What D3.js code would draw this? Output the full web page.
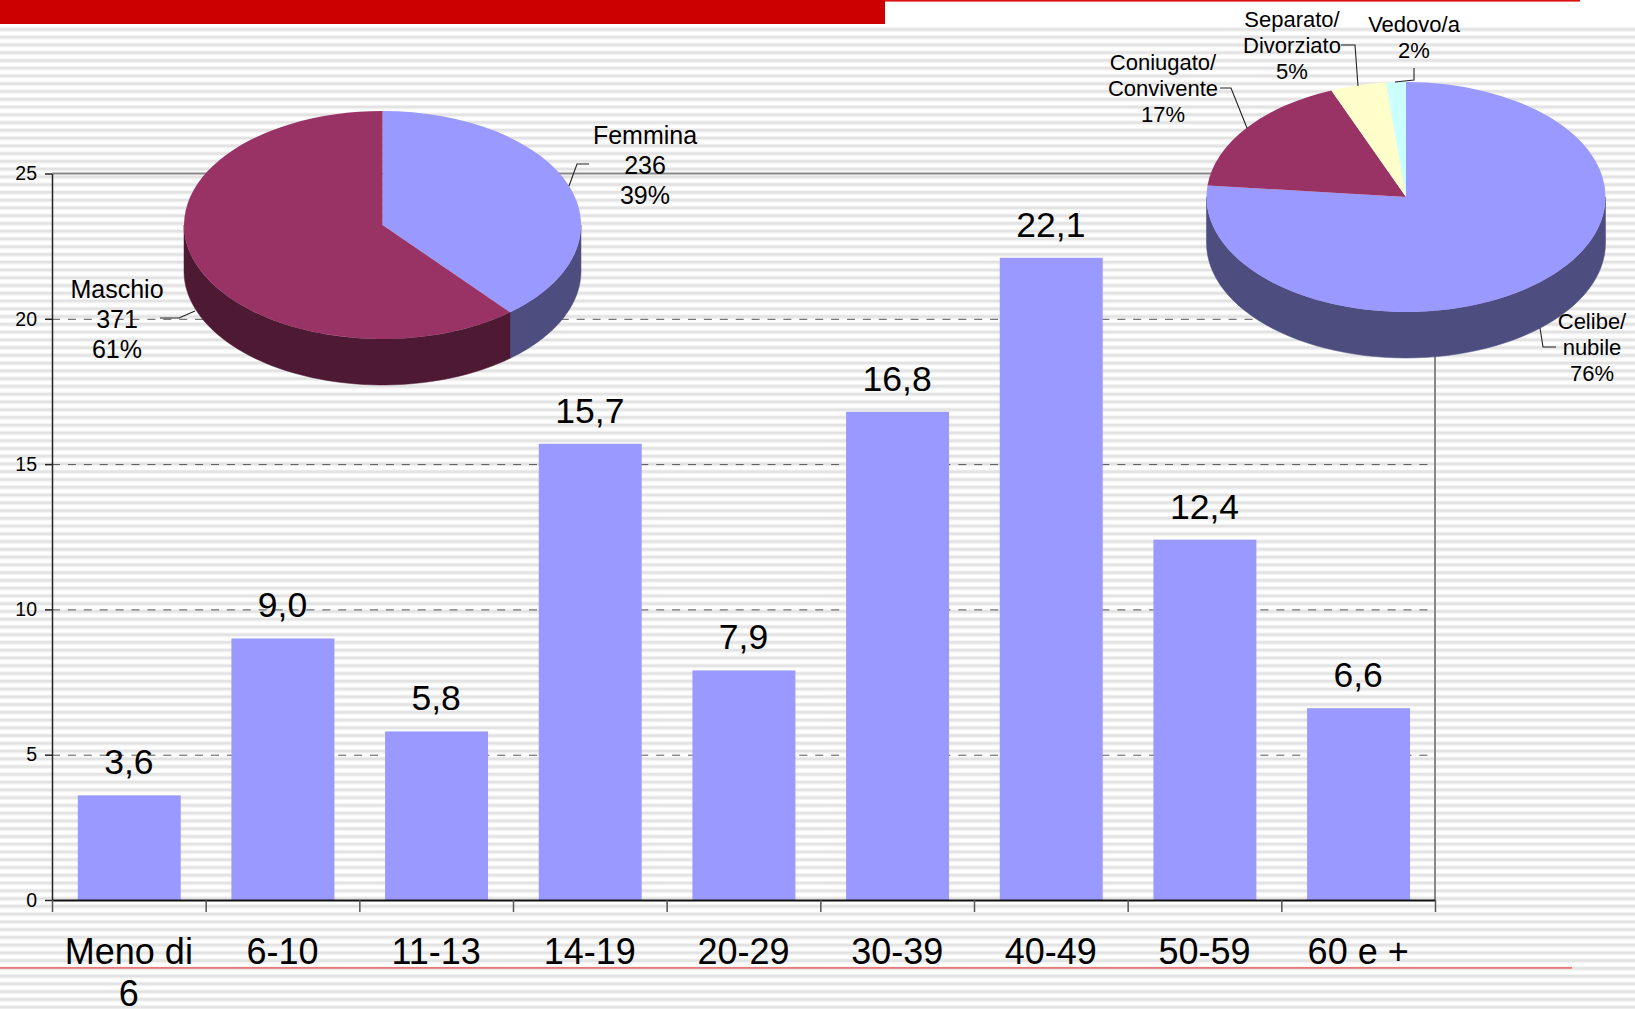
<!DOCTYPE html>
<html>
<head>
<meta charset="utf-8">
<script src="https://d3js.org/d3.v7.min.js"></script>
<style>
    html, body { margin: 0; padding: 0; background: #fff; }
    svg { display: block; }
    text { font-family: "Liberation Sans", Arial, sans-serif; fill: #000; }
</style>
</head>
<body>
<div id="chart"></div>
<script>
// Age distribution bars
const ageLabels = ["Meno di 6", "6-10", "11-13", "14-19", "20-29", "30-39", "40-49", "50-59", "60 e +"];
const ageValues = [3.6, 9.0, 5.8, 15.7, 7.9, 16.8, 22.1, 12.4, 6.6];
const yTicks = [0, 5, 10, 15, 20, 25];

// Gender pie
const genderLabels = [["Femmina", "236", "39%"], ["Maschio", "371", "61%"]];
const genderValues = [236, 371];

// Marital status pie (slice sizes, the labels are rounded)
const maritalLabels = [["Celibe/", "nubile", "76%"], ["Coniugato/", "Convivente", "17%"], ["Separato/", "Divorziato", "5%"], ["Vedovo/a", "2%"]];
const maritalValues = [76.6, 17.3, 4.5, 1.6];

const width = 1635;
const height = 1009;
const margin = { top: 173.5, right: 200, bottom: 109, left: 52 };
const innerWidth = width - margin.left - margin.right;
const innerHeight = height - margin.top - margin.bottom;

const svg = d3.select("#chart")
    .append("svg")
    .attr("width", width)
    .attr("height", height)
    .attr("viewBox", `0 0 ${width} ${height}`);

// Slide background stripes, soft edge under a darker core
const stripes = svg.append("g");
stripes.selectAll(".halo")
    .data(d3.range(28.2, height, 7.76))
    .join("rect")
    .attr("class", "halo")
    .attr("x", 0)
    .attr("y", d => d - 1)
    .attr("width", width)
    .attr("height", 4.6)
    .attr("fill", "#f3f3f3");
stripes.selectAll(".core")
    .data(d3.range(28.2, height, 7.76))
    .join("rect")
    .attr("class", "core")
    .attr("x", 0)
    .attr("y", d => d)
    .attr("width", width)
    .attr("height", 2.4)
    .attr("fill", "#e3e3e3");

// Slide decoration
svg.append("rect").attr("x", 0).attr("y", 0).attr("width", 885).attr("height", 24).attr("fill", "#cc0000");
svg.append("rect").attr("x", 885).attr("y", 0).attr("width", 695).attr("height", 1.6).attr("fill", "#dd1111");
svg.append("rect").attr("x", 0).attr("y", 967).attr("width", 1572).attr("height", 1.8).attr("fill", "#e87878");

const innerChart = svg.append("g")
    .attr("transform", `translate(${margin.left},${margin.top})`);

// Scales
const xScale = d3.scaleBand()
    .domain(ageLabels)
    .range([0, innerWidth])
    .paddingInner(0.33)
    .paddingOuter(0.165);

const xEdges = d3.scaleLinear()
    .domain([0, ageLabels.length])
    .range([0, innerWidth]);

const yScale = d3.scaleLinear()
    .domain([0, 25])
    .range([innerHeight, 0]);

// Gridlines
const grid = innerChart.append("g")
    .call(d3.axisLeft(yScale).tickValues([5, 10, 15, 20]).tickSize(-(innerWidth - 7)).tickFormat(""));
grid.select(".domain").remove();
grid.selectAll("line")
    .attr("stroke", "#555")
    .attr("stroke-dasharray", "8,7.9");

// Plot frame, top and right
innerChart.append("path")
    .attr("d", `M0,0H${innerWidth}V${innerHeight}`)
    .attr("fill", "none")
    .attr("stroke", "#888")
    .attr("stroke-width", 2);

// Bars
innerChart.selectAll(".bar")
    .data(ageValues)
    .join("rect")
    .attr("class", "bar")
    .attr("x", (d, i) => xScale(ageLabels[i]) + 0.4)
    .attr("y", d => yScale(d))
    .attr("width", xScale.bandwidth())
    .attr("height", d => innerHeight - yScale(d))
    .attr("fill", "#9999ff");

// Bar value labels
innerChart.selectAll(".value")
    .data(ageValues)
    .join("text")
    .attr("class", "value")
    .attr("x", (d, i) => xScale(ageLabels[i]) + xScale.bandwidth() / 2)
    .attr("y", d => yScale(d) - 21)
    .attr("text-anchor", "middle")
    .style("font-size", "35.5px")
    .text(d => d3.format(".1f")(d).replace(".", ","));

// Axes
const leftAxis = innerChart.append("g")
    .call(d3.axisLeft(yScale).tickValues(yTicks).tickSize(7).tickSizeOuter(0));
leftAxis.selectAll("text").style("font-size", "19.5px").attr("x", -15).attr("fill", "#000");
leftAxis.selectAll("path, line").attr("stroke", "#222").attr("stroke-width", 1.5);

const edgeAxis = innerChart.append("g")
    .attr("transform", `translate(0,${innerHeight})`)
    .call(d3.axisBottom(xEdges).tickValues(d3.range(ageLabels.length + 1)).tickSize(12).tickSizeOuter(0).tickFormat(""));
edgeAxis.selectAll("path").attr("stroke", "#111").attr("stroke-width", 2);
edgeAxis.selectAll("line").attr("stroke", "#555").attr("stroke-width", 1.5);

// Category labels, "Meno di 6" wraps on two lines
const bottomAxis = innerChart.append("g")
    .attr("transform", `translate(0,${innerHeight})`)
    .call(d3.axisBottom(xScale).tickSize(0));
bottomAxis.select(".domain").remove();
bottomAxis.selectAll("text")
    .style("font-size", "36px")
    .attr("fill", "#000")
    .attr("dy", null)
    .attr("y", 64)
    .text(d => d === "Meno di 6" ? "Meno di" : d);
bottomAxis.select(".tick")
    .append("text")
    .attr("text-anchor", "middle")
    .attr("y", 106)
    .style("font-size", "36px")
    .text("6");

// 3D looking pie: a flat d3.arc squashed into an ellipse, over a rim for the lower half
const drawPie = (values, colors, sideColors, geom) => {
    const { cx, cy, rx, ry, depth } = geom;
    const tau = 2 * Math.PI;
    const slices = d3.pie().sort(null)(values);
    const g = svg.append("g").attr("transform", `translate(${cx},${cy})`);

    const rimPoint = (a, dy) => [rx * Math.sin(a), -ry * Math.cos(a) + dy];
    const rimLine = d3.line();

    slices.forEach((s, i) => {
        const a0 = Math.max(s.startAngle, tau / 4);
        const a1 = Math.min(s.endAngle, tau * 3 / 4);
        if (a1 <= a0) return;
        const steps = d3.range(0, 61).map(k => a0 + (a1 - a0) * k / 60);
        const pts = steps.map(a => rimPoint(a, 0))
            .concat(steps.slice().reverse().map(a => rimPoint(a, depth)));
        g.append("path")
            .attr("d", rimLine(pts) + "Z")
            .attr("fill", sideColors[i])
            .attr("stroke", sideColors[i])
            .attr("stroke-width", 0.5);
    });

    const arc = d3.arc().innerRadius(0).outerRadius(1);
    g.selectAll(".slice")
        .data(slices)
        .join("path")
        .attr("class", "slice")
        .attr("d", arc)
        .attr("transform", `scale(${rx},${ry})`)
        .attr("fill", (d, i) => colors[i]);
};

const drawPieLabels = (labels, layout, fontSize, lineHeight) => {
    labels.forEach((lines, i) => {
        const pos = layout[i];
        lines.forEach((line, k) => {
            svg.append("text")
                .attr("x", pos.x)
                .attr("y", pos.y + k * lineHeight)
                .attr("text-anchor", "middle")
                .style("font-size", `${fontSize}px`)
                .text(line);
        });
        svg.append("path")
            .attr("d", d3.line()(pos.leader))
            .attr("fill", "none")
            .attr("stroke", "#222")
            .attr("stroke-width", 1.1);
    });
};

const plum = "#993366";
const periwinkle = "#9999ff";

drawPie(genderValues, [periwinkle, plum], ["#4d4d80", "#4d1933"],
    { cx: 382.5, cy: 225, rx: 198.5, ry: 114, depth: 46 });
drawPieLabels(genderLabels, [
    { x: 645, y: 144, leader: [[569, 186], [577, 164], [589, 164]] },
    { x: 117, y: 298, leader: [[195, 311], [179, 318], [160, 318]] }
], 25, 30);

drawPie(maritalValues, [periwinkle, plum, "#ffffcc", "#ccffff"], ["#4d4d80", "#4d1933", "#808066", "#668080"],
    { cx: 1406, cy: 197, rx: 199.5, ry: 115, depth: 46 });
drawPieLabels(maritalLabels, [
    { x: 1592, y: 329, leader: [[1540, 328], [1543, 347], [1556, 347]] },
    { x: 1163, y: 70, leader: [[1220, 88], [1231, 88], [1247, 128]] },
    { x: 1292, y: 27, leader: [[1341, 45], [1355, 45], [1358, 86]] },
    { x: 1414, y: 32, leader: [[1414, 68], [1414, 80], [1395, 82]] }
], 22, 26);
</script>
</body>
</html>
